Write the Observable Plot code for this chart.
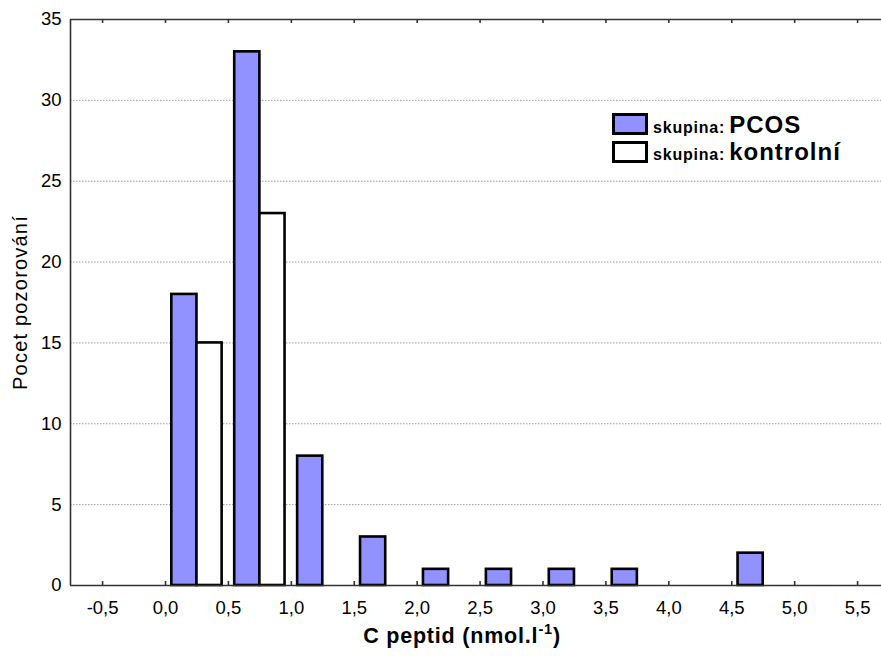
<!DOCTYPE html>
<html><head><meta charset="utf-8">
<script src="https://cdn.jsdelivr.net/npm/d3@7"></script>
<script src="https://cdn.jsdelivr.net/npm/@observablehq/plot@0.6"></script>
<style>
body{margin:0;background:#fff;}
#wrap{position:relative;width:881px;height:657px;font-family:"Liberation Sans",Arial,sans-serif;color:#000;}
#wrap svg{position:absolute;left:0;top:0;}
#wrap svg g[aria-label="text"] text{letter-spacing:1.2px;}
.xtitle{position:absolute;left:262px;width:400px;top:626px;text-align:center;font-weight:bold;font-size:21.5px;line-height:21.5px;letter-spacing:0.8px;white-space:nowrap;}
.xtitle sup{font-size:14.5px;vertical-align:9px;line-height:0;}
.lg-sw{position:absolute;left:612px;width:36px;height:22px;box-sizing:border-box;border:3px solid #000;}
.lg-tx{position:absolute;left:653px;font-weight:bold;font-size:24px;line-height:24px;letter-spacing:1px;white-space:nowrap;}
.lg-tx .small{font-size:16px;letter-spacing:0.8px;margin-right:4px;}
</style></head><body><div id="wrap"></div>
<script>
const binStarts = [0.0, 0.5, 1.0, 1.5, 2.0, 2.5, 3.0, 3.5, 4.0, 4.5];
const pcosCounts = [18, 33, 8, 3, 1, 1, 1, 1, 0, 2];
const kontrolniCounts = [15, 23, 0, 0, 0, 0, 0, 0, 0, 0];
const seriesNames = ["PCOS", "kontrolní"];
const seriesColors = ["#9191ff", "#ffffff"];
const xTicks = [-0.5, 0, 0.5, 1, 1.5, 2, 2.5, 3, 3.5, 4, 4.5, 5, 5.5];
const yTicks = [0, 5, 10, 15, 20, 25, 30, 35];
const gridTicks = [5, 10, 15, 20, 25, 30];
const xDomain = [-0.755, 5.69];
const yDomain = [0, 35];
const binWidth = 0.5;
const xTitle = "C peptid (nmol.l";
const xTitleSup = "-1";
const yTitle = "Pocet pozorování";
const legendPrefix = "skupina:";

const rows = [];
binStarts.forEach((b, i) => {
  rows.push({series: seriesNames[0], x1: b + binWidth * 0.1, x2: b + binWidth * 0.5, count: pcosCounts[i]});
  rows.push({series: seriesNames[1], x1: b + binWidth * 0.5, x2: b + binWidth * 0.9, count: kontrolniCounts[i]});
});
const bars = rows.filter(d => d.count > 0);

const axisColor = "#333";
const plot = Plot.plot({
  width: 881, height: 657,
  marginLeft: 70, marginRight: 0, marginTop: 19, marginBottom: 72,
  x: {domain: xDomain},
  y: {domain: yDomain},
  color: {type: "ordinal", domain: seriesNames, range: seriesColors},
  style: {fontFamily: '"Liberation Sans", Arial, sans-serif', fontSize: "18.5px", color: "#000", background: "#fff"},
  marks: [
    Plot.gridY(gridTicks, {stroke: "#9a9a9a", strokeOpacity: 1, strokeDasharray: "1.5,1.5", strokeWidth: 1}),
    Plot.rectY(bars, {x1: "x1", x2: "x2", y: "count", fill: "series", stroke: "#000", strokeWidth: 2.6}),
    Plot.ruleY([yDomain[0]], {stroke: axisColor, strokeWidth: 1.6}),
    Plot.ruleY([yDomain[1]], {stroke: axisColor, strokeWidth: 1.6}),
    Plot.ruleX([xDomain[0]], {stroke: axisColor, strokeWidth: 1.6}),
    Plot.ruleX(xTicks, {x: d => d, insetTop: 562, stroke: axisColor, strokeWidth: 1.6}),
    Plot.ruleX(xTicks, {x: d => d, insetBottom: 562, stroke: axisColor, strokeWidth: 1.6}),
    Plot.axisX({ticks: xTicks, tickSize: 0, tickPadding: 15, label: null, tickFormat: d => d.toFixed(1).replace(".", ",").replace("-0,0","0,0")}),
    Plot.axisY({ticks: yTicks, tickSize: 0, tickPadding: 9, label: null, tickFormat: d => String(d)}),
    Plot.text([yTitle], {frameAnchor: "left", textAnchor: "middle", rotate: -90, dx: -50, fontSize: 20, fill: "#000"})
  ]
});

const wrap = document.getElementById("wrap");
wrap.appendChild(plot);

const xt = document.createElement("div");
xt.className = "xtitle";
xt.innerHTML = `${xTitle}<sup>${xTitleSup}</sup>)`;
wrap.appendChild(xt);

seriesNames.forEach((name, i) => {
  const sw = document.createElement("div");
  sw.className = "lg-sw";
  sw.style.top = (113 + 28 * i) + "px";
  sw.style.background = seriesColors[i];
  wrap.appendChild(sw);
  const tx = document.createElement("div");
  tx.className = "lg-tx";
  tx.style.top = (112.7 + 27 * i) + "px";
  tx.innerHTML = `<span class="small">${legendPrefix}</span>${name}`;
  wrap.appendChild(tx);
});
</script></body></html>
